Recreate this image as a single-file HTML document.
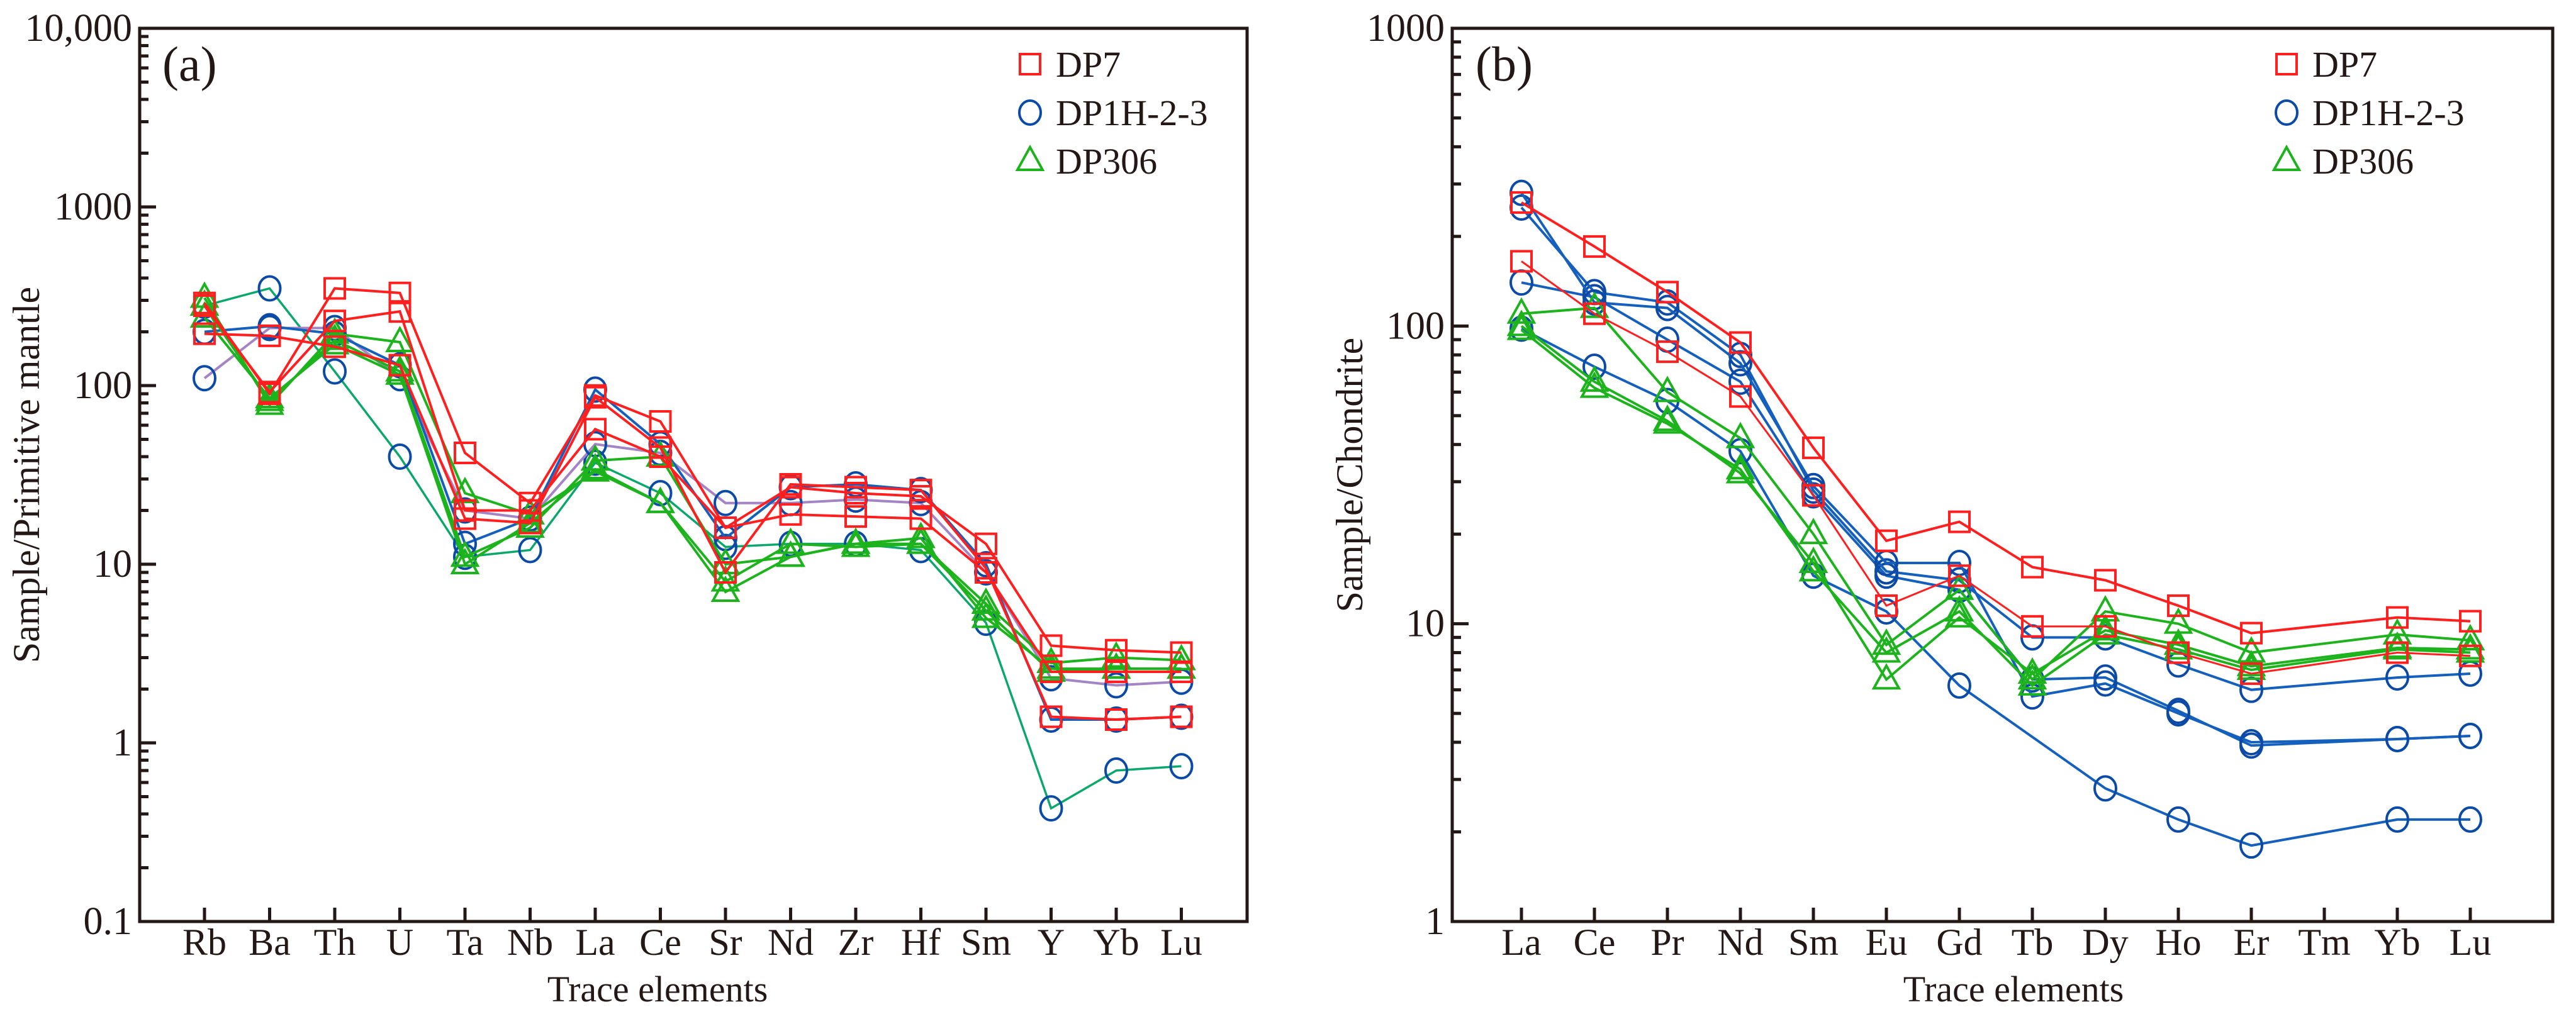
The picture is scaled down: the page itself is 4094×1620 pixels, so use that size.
<!DOCTYPE html>
<html><head><meta charset="utf-8"><style>
html,body{margin:0;padding:0;background:#fff;}
svg{display:block;}
svg text{font-family:"Liberation Serif","DejaVu Serif",serif;}
</style></head><body>
<svg id="chart" xmlns="http://www.w3.org/2000/svg" width="4094" height="1620" viewBox="0 0 4094 1620" font-family="Liberation Serif, serif"></svg>
<script>
// ---------- Panel (a) data ----------
const catsA = ["Rb","Ba","Th","U","Ta","Nb","La","Ce","Sr","Nd","Zr","Hf","Sm","Y","Yb","Lu"];
const yTicksA = [0.1,1,10,100,1000,10000];
const yTickLabelsA = ["0.1","1","10","100","1000","10,000"];
const a_dp7_1 = [290,90,350,330,42,22,88,63,16,27,25,24,13,3.5,3.3,3.2];
const a_dp7_2 = [280,92,230,260,20,20,57,40,16,19,18.5,18,9,2.5,2.5,2.5];
const a_dp7_3 = [195,190,165,130,18,17,86,45,9,28,27,26,9.5,1.4,1.35,1.4];
const a_dp1_1 = [200,215,195,130,13,18,95,47,14,27,28,26,10,1.35,1.35,1.4];
const a_dp1_2 = [110,210,210,110,20,18,47,42,22,22,23,22,9,2.3,2.1,2.2];
const a_dp1_3 = [280,350,120,40,11,12,37,25,12.5,13,13,12,4.7,0.43,0.7,0.74];
const a_dp306_1 = [310,78,195,175,25,19,33,22,8,13,12.5,13,6,2.8,3.0,2.9];
const a_dp306_2 = [280,82,180,120,11,16,38,40,10,11,13,13,5.5,2.5,2.6,2.6];
const a_dp306_3 = [240,85,170,115,10,17,34,22,7,11,13,14,5,2.6,2.6,2.6];

// ---------- Panel (b) data ----------
const catsB = ["La","Ce","Pr","Nd","Sm","Eu","Gd","Tb","Dy","Ho","Er","Tm","Yb","Lu"];
const yTicksB = [1,10,100,1000];
const yTickLabelsB = ["1","10","100","1000"];
const b_dp7_1 = [260,185,130,88,39,19,22,15.5,14,11.5,9.3,null,10.5,10.2];
const b_dp7_2 = [165,110,82,58,27,11.5,14.5,9.8,9.8,8,6.8,null,8,7.8];
const b_dp1_1 = [280,120,115,75,29,16,16,5.7,6.3,5.0,4.0,null,4.1,4.2];
const b_dp1_2 = [250,130,120,80,28,15,14,9,9,7.3,6,null,6.6,6.8];
const b_dp1_3 = [140,125,90,65,27,14.5,13,6.5,6.6,5.1,3.9,null,4.1,4.2];
const b_dp1_4 = [98,73,56,38,14.5,11,6.2,null,2.8,2.2,1.8,null,2.2,2.2];
const b_dp306_1 = [110,115,60,42,20,8.5,13,6.5,11,10,8,null,9.2,8.8];
const b_dp306_2 = [100,65,48,32,16,6.5,10.5,6.8,9.5,8.5,7.2,null,8.3,8.2];
const b_dp306_3 = [97,62,47,33,15,8,11,6.2,9.2,8.2,7.0,null,8.2,8.0];

const NS="http://www.w3.org/2000/svg";
const svg=document.getElementById('chart');
const FONT="Liberation Serif, DejaVu Serif, serif";
function mk(tag,attrs,parent){const e=document.createElementNS(NS,tag);for(const k in attrs)e.setAttribute(k,attrs[k]);if(tag==='text')e.setAttribute('font-family',FONT);(parent||svg).appendChild(e);return e;}

const RED="#ff1f1f",BLUE_M="#0b4aa6",GREEN="#1db31d";
const LINE={red:"#ff1f1f",blue:"#1560bd",purple:"#a584c6",teal:"#0aa86a",green:"#1db31d"};

function marker(g,type,x,y){
  let e;
  if(type==='sq'){e=mk('rect',{x:x-16,y:y-16,width:32,height:32,fill:'none',stroke:RED,'stroke-width':4},g);}
  else if(type==='ci'){e=mk('ellipse',{cx:x,cy:y,rx:17,ry:19,fill:'none',stroke:BLUE_M,'stroke-width':4},g);}
  else {e=mk('polygon',{points:`${x},${y-22} ${x-20},${y+14} ${x+20},${y+14}`,fill:'none',stroke:GREEN,'stroke-width':4},g);}
  return e;
}

function panel(cfg){
  const {id,left,right,top,bottom,cats,x0,dx,ymin,ymax,ticks,tickLabels,series,ytitle,ytitleX,tag,tagX,xtitleX,legendX}=cfg;
  const g=mk('g',{});
  
  
  const lmin=Math.log10(ymin),lmax=Math.log10(ymax);
  const sy=v=>bottom-(Math.log10(v)-lmin)/(lmax-lmin)*(bottom-top);
  const sx=i=>x0+i*dx;
  series.forEach(s=>{
    const sg=mk('g',{},g);
    
    
    const pts=[];
    s.data.forEach((v,i)=>{if(v!==null)pts.push([sx(i),sy(v)]);});
    const pl=mk('polyline',{points:pts.map(p=>p.join(',')).join(' '),fill:'none',stroke:s.line,'stroke-width':s.w||4},sg);
    
    
    pts.forEach(p=>{
      const m=marker(sg,s.mk,p[0],p[1]);
      
      
    });
  });
  const fr=mk('rect',{x:left,y:top,width:right-left,height:bottom-top,fill:'none',stroke:'#231815','stroke-width':5},g);
  
  
  for(let d=Math.round(lmin);d<Math.round(lmax);d++){
    for(let k=2;k<=9;k++){
      const y=sy(k*Math.pow(10,d));
      mk('line',{x1:left,x2:left+14,y1:y,y2:y,stroke:'#231815','stroke-width':5},g);
    }
  }
  ticks.forEach((t,i)=>{
    const y=sy(t);
    mk('line',{x1:left,x2:left+26,y1:y,y2:y,stroke:'#231815','stroke-width':5},g);
    const tx=mk('text',{x:left-12,y:y+20,'text-anchor':'end','font-size':62,fill:'#231815'},g);
    tx.textContent=tickLabels[i];
    
    
  });
  cats.forEach((c,i)=>{
    const x=sx(i);
    mk('line',{x1:x,x2:x,y1:bottom,y2:bottom-22,stroke:'#231815','stroke-width':5},g);
    const tx=mk('text',{x:x,y:bottom+53,'text-anchor':'middle','font-size':60,fill:'#231815'},g);
    tx.textContent=c;
    
    
  });
  const xt=mk('text',{x:xtitleX,y:1592,'text-anchor':'middle','font-size':58,fill:'#231815'},g);
  xt.textContent='Trace elements';
  
  
  const cy=(top+bottom)/2;
  const yt=mk('text',{x:ytitleX,y:cy,'text-anchor':'middle','font-size':60,fill:'#231815',transform:`rotate(-90 ${ytitleX} ${cy})`},g);
  yt.textContent=ytitle;
  
  
  const pt=mk('text',{x:tagX,y:128,'font-size':78,fill:'#231815'},g);
  pt.textContent=tag;
  
  
  const lg=mk('g',{},g);
  
  
  const lx=legendX, labels=[['sq','DP7'],['ci','DP1H-2-3'],['tr','DP306']];
  labels.forEach((l,i)=>{
    const y=102+i*77;
    const m=marker(lg,l[0],lx,y);
    
    
    const t=mk('text',{x:lx+41,y:y+20,'font-size':58,fill:'#231815'},lg);
    t.textContent=l[1];
    
    
  });
}

panel({id:'panel-a-spider',left:222,right:1982,top:45,bottom:1465,cats:catsA,x0:325,dx:103.5,ymin:0.1,ymax:10000,
  ticks:yTicksA,tickLabels:yTickLabelsA,ytitle:'Sample/Primitive mantle',ytitleX:62,tag:'(a)',tagX:258,xtitleX:1045,legendX:1637,
  series:[
    {name:'dp1-3',data:a_dp1_3,mk:'ci',line:LINE.teal,w:3.5},
    {name:'dp1-2',data:a_dp1_2,mk:'ci',line:LINE.purple},
    {name:'dp1-1',data:a_dp1_1,mk:'ci',line:LINE.blue},
    {name:'dp306-1',data:a_dp306_1,mk:'tr',line:LINE.green},
    {name:'dp306-2',data:a_dp306_2,mk:'tr',line:LINE.green},
    {name:'dp306-3',data:a_dp306_3,mk:'tr',line:LINE.green},
    {name:'dp7-3',data:a_dp7_3,mk:'sq',line:LINE.red},
    {name:'dp7-2',data:a_dp7_2,mk:'sq',line:LINE.red},
    {name:'dp7-1',data:a_dp7_1,mk:'sq',line:LINE.red}
  ]});

panel({id:'panel-b-ree',left:2308,right:4057,top:45,bottom:1465,cats:catsB,x0:2418,dx:116,ymin:1,ymax:1000,
  ticks:yTicksB,tickLabels:yTickLabelsB,ytitle:'Sample/Chondrite',ytitleX:2165,tag:'(b)',tagX:2345,xtitleX:3200,legendX:3634,
  series:[
    {name:'dp1-4',data:b_dp1_4,mk:'ci',line:LINE.blue},
    {name:'dp1-3',data:b_dp1_3,mk:'ci',line:LINE.blue},
    {name:'dp1-2',data:b_dp1_2,mk:'ci',line:LINE.blue},
    {name:'dp1-1',data:b_dp1_1,mk:'ci',line:LINE.blue},
    {name:'dp306-1',data:b_dp306_1,mk:'tr',line:LINE.green},
    {name:'dp306-2',data:b_dp306_2,mk:'tr',line:LINE.green},
    {name:'dp306-3',data:b_dp306_3,mk:'tr',line:LINE.green},
    {name:'dp7-2',data:b_dp7_2,mk:'sq',line:LINE.red,w:3},
    {name:'dp7-1',data:b_dp7_1,mk:'sq',line:LINE.red}
  ]});
</script>
</body></html>
